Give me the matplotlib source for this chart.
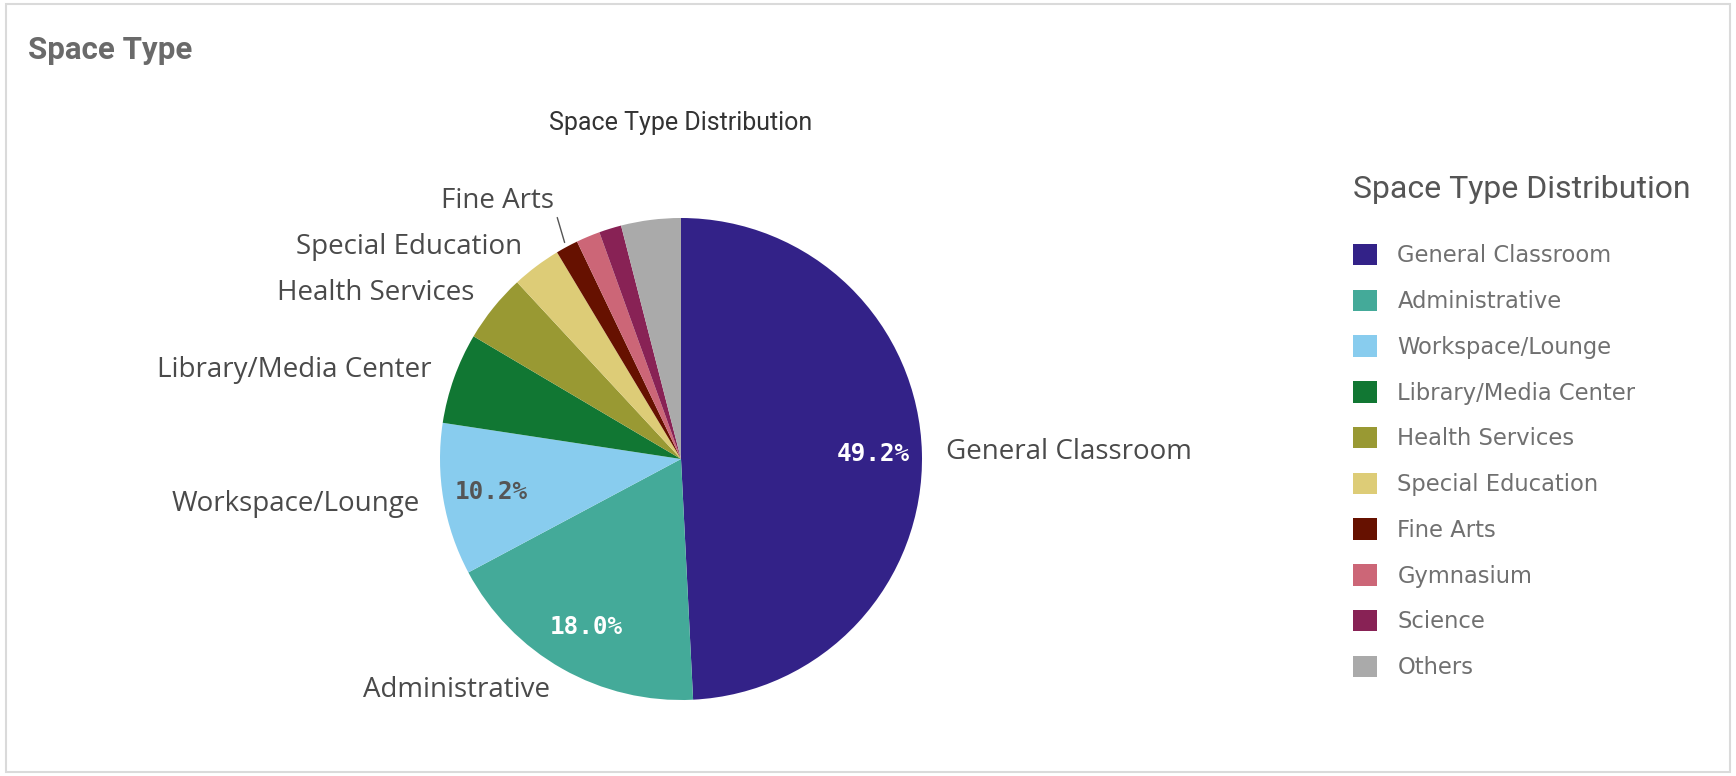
import matplotlib
matplotlib.use("Agg")
import matplotlib.pyplot as plt
import numpy as np
from matplotlib.patches import Rectangle

# ---- data ----
categories = ["General Classroom", "Administrative", "Workspace/Lounge",
              "Library/Media Center", "Health Services", "Special Education",
              "Fine Arts", "Gymnasium", "Science", "Others"]
shares = [49.2, 18.0, 10.2, 6.1, 4.6, 3.3, 1.5, 1.6, 1.5, 4.0]
colors = ["#332288", "#44AA99", "#88CCEE", "#117733", "#999933",
          "#DDCC77", "#661100", "#CC6677", "#882255", "#AAAAAA"]
# slices with an outside label placed by the pie itself
pie_labels = ["General Classroom", "Administrative", "Workspace/Lounge",
              "Library/Media Center", "Health Services", "Special Education",
              "", "", "", ""]
leader_label = "Fine Arts"
chart_title = "Space Type Distribution"

W, H = 1736, 776
fig = plt.figure(figsize=(W / 100, H / 100), dpi=100)
fig.patch.set_facecolor("white")

# outer panel frame
fig.patches.append(Rectangle((6 / W, 4 / H), 1724 / W, 768 / H, transform=fig.transFigure,
                             fill=False, edgecolor="#dadada", linewidth=1.5))

fig.text(28 / W, 1 - 50 / H, "Space Type", fontsize=22.5, fontweight="bold",
         color="#6a6a6a", family=["Roboto", "DejaVu Sans"], va="center", ha="left")
fig.text(681 / W, 1 - 123 / H, chart_title, fontsize=18,
         color="#333333", family=["Roboto", "DejaVu Sans"], va="center", ha="center")

# pie axes: center (681, 459) px, radius 241 px
cx, cy, r = 681, 459, 241
ax = fig.add_axes([(cx - r) / W, (H - cy - r) / H, 2 * r / W, 2 * r / H])


def pct_fmt(p):
    return f"{p:.1f}%" if p > 8 else ""


lbl_font = dict(fontsize=20, color="#4a4a4a", family=["Open Sans", "DejaVu Sans"])
wedges, texts, autotexts = ax.pie(
    shares, labels=pie_labels, colors=colors, startangle=90, counterclock=False,
    labeldistance=1.1, pctdistance=0.8, autopct=pct_fmt,
    wedgeprops=dict(linewidth=0), textprops=lbl_font)
ax.set_xlim(-1, 1); ax.set_ylim(-1, 1)

for i, t in enumerate(autotexts):
    t.set_family("DejaVu Sans Mono")
    t.set_fontsize(17.5)
    t.set_fontweight("bold")
    t.set_color("white" if i < 2 else "#555555")

# Fine Arts label pushed up with a leader line
fa = wedges[categories.index(leader_label)]
mid = np.deg2rad((fa.theta1 + fa.theta2) / 2)
ax.annotate(leader_label, xy=(1.02 * np.cos(mid), 1.02 * np.sin(mid)),
            xytext=(-0.525, 1.07), ha="right", va="center", **lbl_font,
            arrowprops=dict(arrowstyle="-", color="#555555", lw=1,
                            shrinkA=0, shrinkB=0, relpos=(1.0, 0.25)))

# legend (title drawn separately for exact spacing)
fig.text(1353 / W, 1 - 190 / H, chart_title, fontsize=23, color="#555555",
         family=["Roboto", "DejaVu Sans"], va="center", ha="left")
leg = fig.legend(wedges, categories, loc="upper left",
                 bbox_to_anchor=(1353 / W, 1 - 244 / H), frameon=False,
                 handlelength=1.08, handleheight=1.08, handletextpad=0.88,
                 labelspacing=0.985, borderpad=0, borderaxespad=0,
                 labelcolor="#707070", prop=dict(family=["DejaVu Sans"], size=16.3))

fig.savefig("out.png", dpi=100)
